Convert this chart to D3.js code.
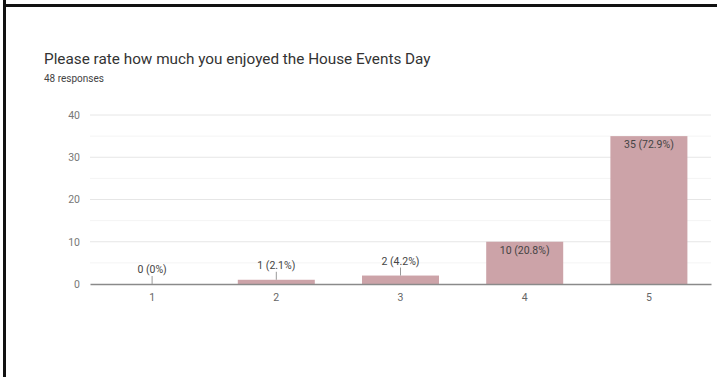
<!DOCTYPE html>
<html>
<head>
<meta charset="utf-8">
<script src="https://cdn.jsdelivr.net/npm/d3@7"></script>
<style>
  html, body { margin: 0; padding: 0; background: #fff; }
  svg { display: block; font-family: Roboto, "Noto Sans", Arial, sans-serif; }
</style>
</head>
<body>
<svg id="chart" width="717" height="377"></svg>
<script>
// Survey results: rating 1-5
const categories = ["1", "2", "3", "4", "5"];
const counts = [0, 1, 2, 10, 35];
const percents = ["0%", "2.1%", "4.2%", "20.8%", "72.9%"];
const yTicks = [0, 10, 20, 30, 40];
const minorTicks = [5, 15, 25, 35];
const title = "Please rate how much you enjoyed the House Events Day";
const subtitle = "48 responses";

const svg = d3.select("#chart");
const W = 717, H = 377;
const FONT = "Roboto, 'Noto Sans', Arial, sans-serif";

// page frame
svg.append("rect").attr("x", 0).attr("y", 0).attr("width", W).attr("height", H).attr("fill", "#fff");
svg.append("rect").attr("x", 3).attr("y", 4).attr("width", W - 3).attr("height", 3).attr("fill", "#111");
svg.append("rect").attr("x", 3).attr("y", 0).attr("width", 3).attr("height", H).attr("fill", "#111");

svg.append("text").attr("x", 44).attr("y", 64)
  .attr("font-size", 15.3).attr("fill", "#333").text(title);
svg.append("text").attr("x", 44).attr("y", 82)
  .attr("font-size", 10).attr("fill", "#444").text(subtitle);

const plot = { left: 90, right: 711, top: 115, bottom: 284 };

const x = d3.scaleBand().domain(categories)
  .range([plot.left, plot.right]).paddingInner(0.38).paddingOuter(0.19);
const y = d3.scaleLinear().domain([0, 40]).range([plot.bottom, plot.top]);

// gridlines
svg.append("g").selectAll("line").data(minorTicks).join("line")
  .attr("x1", plot.left).attr("x2", plot.right)
  .attr("y1", d => y(d)).attr("y2", d => y(d))
  .attr("stroke", "#f4f4f4").attr("stroke-width", 1);
svg.append("g").selectAll("line").data(yTicks.filter(d => d > 0)).join("line")
  .attr("x1", plot.left).attr("x2", plot.right)
  .attr("y1", d => y(d)).attr("y2", d => y(d))
  .attr("stroke", "#e6e6e6").attr("stroke-width", 1);

// y axis labels
const yAxis = d3.axisLeft(y).tickValues(yTicks).tickSize(0).tickPadding(0);
const gy = svg.append("g").attr("transform", `translate(${plot.left - 10},0)`).call(yAxis);
gy.select(".domain").remove();
gy.selectAll("text").attr("font-size", 10.5).attr("fill", "#777").attr("font-family", FONT);

// bars
const data = categories.map((c, i) => ({ c, v: counts[i], p: percents[i] }));
svg.append("g").selectAll("rect").data(data).join("rect")
  .attr("x", d => x(d.c)).attr("width", x.bandwidth())
  .attr("y", d => y(d.v)).attr("height", d => y(0) - y(d.v))
  .attr("fill", "#cca3a8");

// x axis
const xAxis = d3.axisBottom(x).tickSize(0).tickPadding(10);
const gx = svg.append("g").attr("transform", `translate(0,${plot.bottom})`).call(xAxis);
gx.select(".domain").attr("stroke", "#8a8a8a").attr("stroke-width", 1.5);
gx.selectAll("text").attr("font-size", 10.5).attr("fill", "#666").attr("font-family", FONT);

// value labels: inside tall bars, above short bars with a leader line
const inside = d => (y(0) - y(d.v)) > 20;
const labels = svg.append("g");
data.forEach(d => {
  const cx = x(d.c) + x.bandwidth() / 2;
  const top = y(d.v);
  const text = `${d.v} (${d.p})`;
  if (inside(d)) {
    labels.append("text").attr("x", cx).attr("y", top + 12)
      .attr("text-anchor", "middle").attr("font-size", 10.5).attr("fill", "#444").text(text);
  } else {
    const base = top - 11;
    labels.append("line").attr("x1", cx).attr("x2", cx)
      .attr("y1", base + 3).attr("y2", top)
      .attr("stroke", "#999").attr("stroke-width", 1);
    labels.append("text").attr("x", cx).attr("y", base)
      .attr("text-anchor", "middle").attr("font-size", 10.5).attr("fill", "#444").text(text);
  }
});
</script>
</body>
</html>
